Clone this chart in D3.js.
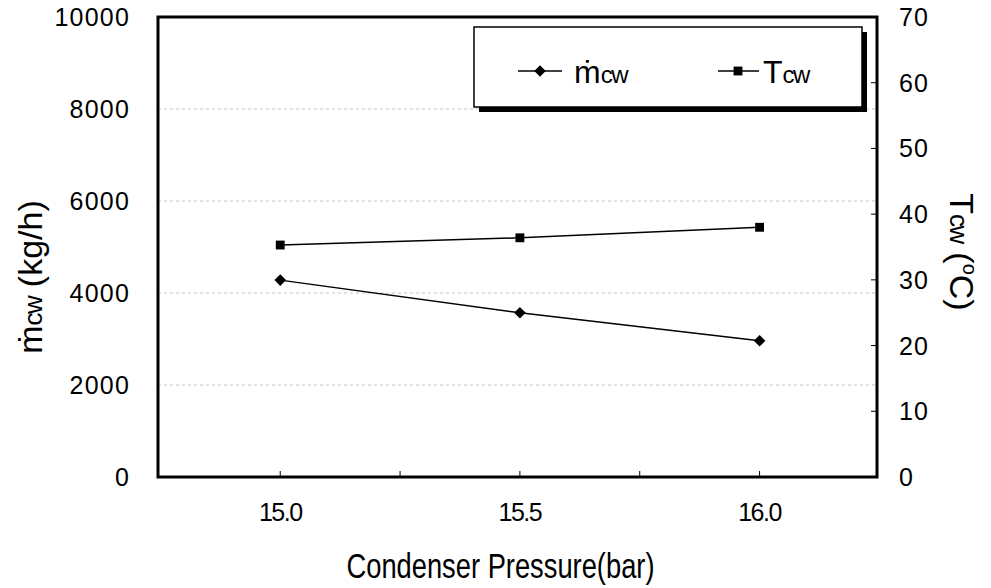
<!DOCTYPE html>
<html>
<head>
<meta charset="utf-8">
<script src="https://cdn.jsdelivr.net/npm/d3@7"></script>
<style>
  body { margin: 0; background: #fff; }
  text { font-family: "Liberation Sans", Arial, sans-serif; fill: #000; }
</style>
</head>
<body>
<div id="chart"></div>
<script>
// data
var pressure = [15.0, 15.5, 16.0];
var mcw = [4280, 3570, 2960];       // kg/h, left axis
var tcw = [35.3, 36.4, 38.0];       // degC, right axis
var xTicks = [15.0, 15.25, 15.5, 15.75, 16.0];
var xLabels = [15.0, 15.5, 16.0];
var leftTicks = [0, 2000, 4000, 6000, 8000, 10000];
var rightTicks = [0, 10, 20, 30, 40, 50, 60, 70];

var W = 991, H = 588;
var m = {left: 158, top: 17};
var width = 719, height = 460;

var x = d3.scaleLinear().domain([14.745, 16.245]).range([0, width]);
var yL = d3.scaleLinear().domain([0, 10000]).range([height, 0]);
var yR = d3.scaleLinear().domain([0, 70]).range([height, 0]);

var svg = d3.select('#chart')
    .append('svg')
    .attr('width', W)
    .attr('height', H);

var g = svg.append('g')
    .attr('transform', 'translate(' + m.left + ',' + m.top + ')');

// dashed grid at left ticks
g.selectAll('.grid')
    .data(leftTicks.filter(function(d) { return d > 0 && d < 10000; }))
    .enter().append('line')
    .attr('x1', 0).attr('x2', width)
    .attr('y1', function(d) { return yL(d); })
    .attr('y2', function(d) { return yL(d); })
    .attr('stroke', '#c4c4c4')
    .attr('stroke-width', 1)
    .attr('stroke-dasharray', '3,3');

// x tick marks, pointing inward
g.selectAll('.xtick')
    .data(xTicks)
    .enter().append('line')
    .attr('x1', function(d) { return x(d); })
    .attr('x2', function(d) { return x(d); })
    .attr('y1', height).attr('y2', height - 6)
    .attr('stroke', '#000')
    .attr('stroke-width', 1);

// right tick marks, pointing inward
g.selectAll('.rtick')
    .data(rightTicks)
    .enter().append('line')
    .attr('x1', width).attr('x2', width - 6)
    .attr('y1', function(d) { return yR(d); })
    .attr('y2', function(d) { return yR(d); })
    .attr('stroke', '#000')
    .attr('stroke-width', 1);

// frame
g.append('rect')
    .attr('width', width)
    .attr('height', height)
    .attr('fill', 'none')
    .attr('stroke', '#000')
    .attr('stroke-width', 3);

// tick labels
g.selectAll('.xl')
    .data(xLabels)
    .enter().append('text')
    .attr('x', function(d) { return x(d); })
    .attr('y', height + 44)
    .attr('text-anchor', 'middle')
    .attr('font-size', 25)
    .attr('letter-spacing', -1.5)
    .text(function(d) { return d.toFixed(1); });

g.selectAll('.yl')
    .data(leftTicks)
    .enter().append('text')
    .attr('x', -28)
    .attr('y', function(d) { return yL(d) + 9; })
    .attr('text-anchor', 'end')
    .attr('font-size', 25)
    .attr('letter-spacing', 1.2)
    .text(function(d) { return d; });

g.selectAll('.yr')
    .data(rightTicks)
    .enter().append('text')
    .attr('x', width + 22)
    .attr('y', function(d) { return yR(d) + 9; })
    .attr('text-anchor', 'start')
    .attr('font-size', 25)
    .attr('letter-spacing', 1.2)
    .text(function(d) { return d; });

// series
var line = d3.line()
    .x(function(d) { return x(d[0]); })
    .y(function(d) { return d[1]; });

var mPts = pressure.map(function(p, i) { return [p, yL(mcw[i])]; });
var tPts = pressure.map(function(p, i) { return [p, yR(tcw[i])]; });

g.append('path')
    .datum(mPts)
    .attr('d', line)
    .attr('fill', 'none')
    .attr('stroke', '#000')
    .attr('stroke-width', 1.5);
g.append('path')
    .datum(tPts)
    .attr('d', line)
    .attr('fill', 'none')
    .attr('stroke', '#000')
    .attr('stroke-width', 1.5);

var diamond = d3.symbol().type(d3.symbolDiamond2).size(85);
var square = d3.symbol().type(d3.symbolSquare2).size(100);

g.selectAll('.dm')
    .data(mPts)
    .enter().append('path')
    .attr('d', diamond)
    .attr('transform', function(d) { return 'translate(' + x(d[0]) + ',' + d[1] + ')'; })
    .attr('fill', '#000');
g.selectAll('.sq')
    .data(tPts)
    .enter().append('path')
    .attr('d', square)
    .attr('transform', function(d) { return 'translate(' + x(d[0]) + ',' + d[1] + ')'; })
    .attr('fill', '#000');

// legend box with drop shadow
var lg = svg.append('g').attr('transform', 'translate(474,27)');
lg.append('rect')
    .attr('x', 5).attr('y', 5)
    .attr('width', 388).attr('height', 80)
    .attr('fill', '#000');
lg.append('rect')
    .attr('width', 388).attr('height', 80)
    .attr('fill', '#fff')
    .attr('stroke', '#000')
    .attr('stroke-width', 1.5);

lg.append('line')
    .attr('x1', 44).attr('x2', 88)
    .attr('y1', 44).attr('y2', 44)
    .attr('stroke', '#000').attr('stroke-width', 1.5);
lg.append('path')
    .attr('d', diamond)
    .attr('transform', 'translate(66,44)')
    .attr('fill', '#000');
var t1 = lg.append('text')
    .attr('x', 100).attr('y', 56)
    .attr('font-size', 32);
t1.append('tspan').text('\u1E41');
t1.append('tspan').attr('font-size', 24).attr('letter-spacing', -1.5).text('cw');

lg.append('line')
    .attr('x1', 244).attr('x2', 285)
    .attr('y1', 44).attr('y2', 44)
    .attr('stroke', '#000').attr('stroke-width', 1.5);
lg.append('path')
    .attr('d', square)
    .attr('transform', 'translate(264,44)')
    .attr('fill', '#000');
var t2 = lg.append('text')
    .attr('x', 289).attr('y', 56)
    .attr('font-size', 32);
t2.append('tspan').text('T');
t2.append('tspan').attr('font-size', 24).attr('letter-spacing', -1.5).text('cw');

// axis titles
svg.append('text')
    .attr('x', m.left + width / 2 - 17)
    .attr('y', 578)
    .attr('text-anchor', 'middle')
    .attr('font-size', 35)
    .attr('textLength', 308)
    .attr('lengthAdjust', 'spacingAndGlyphs')
    .text('Condenser Pressure(bar)');

var yt = svg.append('text')
    .attr('transform', 'translate(42,277) rotate(-90)')
    .attr('text-anchor', 'middle')
    .attr('font-size', 34);
yt.append('tspan').text('\u1E41');
yt.append('tspan').attr('font-size', 26).attr('letter-spacing', -1.5).text('cw');
yt.append('tspan').text(' (kg/h)');

var rt = svg.append('text')
    .attr('transform', 'translate(950,252) rotate(90)')
    .attr('text-anchor', 'middle')
    .attr('font-size', 34);
rt.append('tspan').text('T');
rt.append('tspan').attr('font-size', 26).attr('letter-spacing', -1.5).text('cw');
rt.append('tspan').text(' (');
rt.append('tspan').attr('font-size', 20).attr('dy', -13).text('o');
rt.append('tspan').attr('dy', 13).text('C)');
</script>
</body>
</html>
